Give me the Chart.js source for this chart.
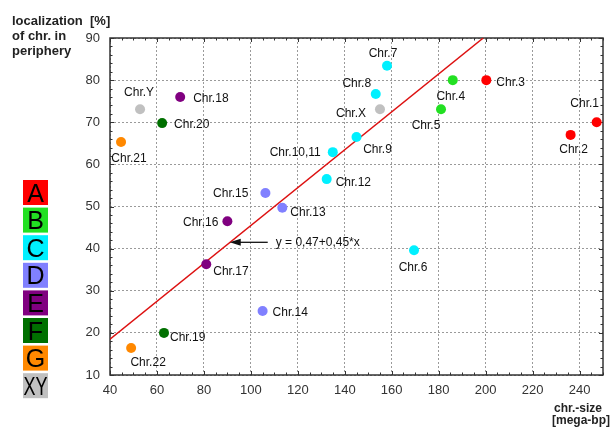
<!DOCTYPE html>
<html>
<head>
<meta charset="utf-8">
<script src="https://cdn.jsdelivr.net/npm/chart.js@4/dist/chart.umd.min.js"></script>
<style>
  html, body { margin: 0; padding: 0; background: #fff; }
  #wrap { width: 611px; height: 427px; position: relative; }
</style>
</head>
<body>
<div id="wrap"><canvas id="chart"></canvas></div>
<script>
// chromosome, size (mega-bp), localization in periphery (%), group
const chromosomes = ['1', '2', '3', '4', '5', '6', '7', '8', '9', '10,11', '12',
  '13', '14', '15', '16', '17', '18', '19', '20', '21', '22', 'X', 'Y'];
const sizes = [247.3, 236.2, 200.3, 186, 181, 169.5, 158, 153.2, 145, 134.9, 132.3,
  113.4, 105, 106.2, 90, 81, 69.9, 63, 62.2, 44.7, 49, 155, 52.8];
const periphery = [70, 67, 80, 80, 73.1, 39.6, 83.4, 76.7, 66.5, 62.9, 56.5,
  49.7, 25.2, 53.2, 46.5, 36.3, 76, 20, 69.8, 65.3, 16.4, 73.1, 73.1];
const groups = ['A', 'A', 'A', 'B', 'B', 'C', 'C', 'C', 'C', 'C', 'C',
  'D', 'D', 'D', 'E', 'E', 'E', 'F', 'F', 'G', 'G', 'XY', 'XY'];

const groupNames = ['A', 'B', 'C', 'D', 'E', 'F', 'G', 'XY'];
const groupColors = ['#ff0000', '#22e022', '#00f0ff', '#8080ff', '#800080', '#007000', '#ff8800', '#c0c0c0'];

// regression line y = 0,47+0,45*x, ends
const fitX = [40, 199];
const fitY = [18.5, 90];

const xTicks = [40, 60, 80, 100, 120, 140, 160, 180, 200, 220, 240];
const yTicks = [10, 20, 30, 40, 50, 60, 70, 80, 90];

// label placement: [dx, dy, align]
const labelPos = {
  '1': [-12, -15, 'center'], '2': [3, 18, 'center'], '3': [10, 6, 'left'],
  '4': [-2, 20, 'center'], '5': [-15, 20, 'center'], '6': [-1, 21, 'center'],
  '7': [-4, -9, 'center'], '8': [-19, -7, 'center'], 'X': [-29, 8, 'center'],
  '9': [21, 16, 'center'], '10,11': [-12, 4, 'right'], '12': [9, 7, 'left'],
  '13': [8, 8, 'left'], '14': [10, 5, 'left'], '15': [-17, 4, 'right'],
  '16': [-9, 5, 'right'], '17': [7, 11, 'left'], '18': [13, 5, 'left'],
  '20': [12, 5, 'left'], 'Y': [-1, -13, 'center'], '21': [8, 20, 'center'],
  '19': [6, 8, 'left'], '22': [17, 18, 'center']
};

const datasets = groupNames.map((g, gi) => ({
  type: 'scatter',
  data: sizes.map((s, i) => ({ x: s, y: periphery[i], name: chromosomes[i] }))
    .filter((p, i) => groups[i] === g),
  backgroundColor: groupColors[gi],
  borderWidth: 0,
  pointRadius: 5,
  order: 1
}));
datasets.unshift({
  type: 'line',
  data: fitX.map((x, i) => ({ x: x, y: fitY[i] })),
  borderColor: '#dd1111',
  borderWidth: 1.5,
  pointRadius: 0,
  fill: false,
  order: 2
});

const FONT = '"Liberation Sans", Arial, sans-serif';

const decor = {
  id: 'decor',
  beforeDatasetsDraw(chart) {
    const ctx = chart.ctx, a = chart.chartArea;
    const xs = chart.scales.x, ys = chart.scales.y;
    ctx.save();
    ctx.strokeStyle = '#333';
    ctx.lineWidth = 1;
    // minor ticks inside the frame
    ctx.beginPath();
    for (let v = 10; v <= 90; v += 2) {
      const py = Math.round(ys.getPixelForValue(v)) + 0.5;
      const len = v % 10 === 0 ? 4 : 2.5;
      ctx.moveTo(a.left, py); ctx.lineTo(a.left + len, py);
      ctx.moveTo(a.right, py); ctx.lineTo(a.right - len, py);
    }
    for (let v = 40; v <= 250; v += 5) {
      const px = Math.round(xs.getPixelForValue(v)) + 0.5;
      const len = v % 20 === 0 ? 4 : 2.5;
      ctx.moveTo(px, a.bottom); ctx.lineTo(px, a.bottom - len);
      ctx.moveTo(px, a.top); ctx.lineTo(px, a.top + len);
    }
    ctx.stroke();
    ctx.lineWidth = 1.5;
    ctx.strokeRect(a.left, a.top, a.right - a.left, a.bottom - a.top);
    ctx.restore();
  },
  afterDatasetsDraw(chart) {
    const ctx = chart.ctx;
    const xs = chart.scales.x, ys = chart.scales.y;
    ctx.save();
    ctx.fillStyle = '#111';
    ctx.font = '12px ' + FONT;
    ctx.textBaseline = 'alphabetic';
    chromosomes.forEach((c, i) => {
      const p = labelPos[c];
      const px = xs.getPixelForValue(sizes[i]);
      const py = ys.getPixelForValue(periphery[i]);
      ctx.textAlign = p[2];
      ctx.fillText('Chr.' + c, px + p[0], py + p[1]);
    });

    // equation with arrow
    const ax = xs.getPixelForValue(91), ay = ys.getPixelForValue(41.5);
    ctx.strokeStyle = '#111';
    ctx.lineWidth = 1.3;
    ctx.beginPath();
    ctx.moveTo(ax + 38, ay); ctx.lineTo(ax + 8, ay);
    ctx.stroke();
    ctx.beginPath();
    ctx.moveTo(ax, ay); ctx.lineTo(ax + 11, ay - 3.5); ctx.lineTo(ax + 11, ay + 3.5);
    ctx.closePath(); ctx.fill();
    ctx.textAlign = 'left';
    ctx.font = '12px ' + FONT;
    ctx.fillText('y = 0,47+0,45*x', ax + 46, ay + 4);

    // axis titles
    ctx.font = 'bold 13px ' + FONT;
    ctx.fillStyle = '#222';
    ctx.fillText('localization  [%]', 12, 25);
    ctx.fillText('of chr. in', 12, 40);
    ctx.fillText('periphery', 12, 55);
    ctx.textAlign = 'center';
    ctx.font = 'bold 12px ' + FONT;
    ctx.fillText('chr.-size', 578, 412);
    ctx.fillText('[mega-bp]', 581, 424);

    // group boxes
    groupNames.forEach((g, i) => {
      const top = 180 + i * 27.6;
      ctx.fillStyle = groupColors[i];
      ctx.fillRect(23, top, 25, 25);
      ctx.fillStyle = '#000';
      ctx.font = '25px ' + FONT;
      ctx.textAlign = 'center';
      ctx.fillText(g, 35.5, top + 21.5, 24);
    });
    ctx.restore();
  }
};

new Chart(document.getElementById('chart'), {
  data: { datasets: datasets },
  plugins: [decor],
  options: {
    responsive: true,
    maintainAspectRatio: false,
    animation: false,
    layout: { padding: { left: 0, right: 8, top: 38, bottom: 0 } },
    plugins: { legend: { display: false }, tooltip: { enabled: false } },
    scales: {
      x: {
        type: 'linear', min: 40, max: 250,
        afterFit(s) { s.height = 52; },
        afterBuildTicks(s) { s.ticks = xTicks.map(v => ({ value: v })); },
        grid: { color: '#9a9a9a', lineWidth: 1, drawTicks: false },
        border: { display: false, dash: [2, 2] },
        ticks: { color: '#333', padding: 8, maxRotation: 0, font: { size: 13, family: FONT } }
      },
      y: {
        type: 'linear', min: 10, max: 90,
        afterFit(s) { s.width = 110; },
        afterBuildTicks(s) { s.ticks = yTicks.map(v => ({ value: v })); },
        grid: { color: '#9a9a9a', lineWidth: 1, drawTicks: false },
        border: { display: false, dash: [2, 2] },
        ticks: { color: '#333', padding: 10, font: { size: 13, family: FONT } }
      }
    }
  }
});
</script>
</body>
</html>
